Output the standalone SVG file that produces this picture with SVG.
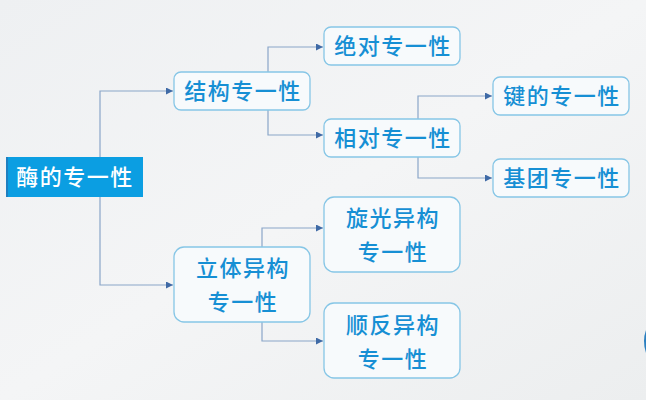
<svg xmlns="http://www.w3.org/2000/svg" width="646" height="400" viewBox="0 0 646 400">
<defs>
<linearGradient id="bg" x1="0" y1="0" x2="1" y2="1">
<stop offset="0" stop-color="#eef0f2"/>
<stop offset="0.5" stop-color="#f4f5f6"/>
<stop offset="1" stop-color="#eceeef"/>
</linearGradient>
<marker id="arr" viewBox="0 0 10 10" refX="10" refY="5" markerWidth="7" markerHeight="7" markerUnits="userSpaceOnUse" orient="auto">
<path d="M0,0 L10,5 L0,10 z" fill="#3f6aa6"/>
</marker>
<style>
.n rect{fill:#f7fafc;stroke:#86c6e6;stroke-width:1.3}
.n text{fill:#168fd4;font-family:"Noto Sans CJK SC","Noto Sans",sans-serif;font-size:22px;font-weight:500;letter-spacing:1.5px;text-anchor:middle}
.c path{fill:none;stroke:#8aa6c8;stroke-width:1.2;marker-end:url(#arr)}
</style>
</defs>
<rect width="646" height="400" fill="url(#bg)"/>
<path d="M646,330 Q642,341 646,353 z" fill="#2a7fc0"/>
<g class="c">
<path d="M100,157 V91 H173"/>
<path d="M100,197 V285 H173"/>
<path d="M268,72 V47 H323"/>
<path d="M268,110 V135 H323"/>
<path d="M418,119 V96 H492"/>
<path d="M418,157 V178 H492"/>
<path d="M262,247 V228 H323"/>
<path d="M262,322 V341 H323"/>
</g>
<g id="root">
<rect x="6" y="157" width="137" height="40" fill="#0b9ee2"/>
<rect x="6" y="157" width="2" height="40" fill="#1f7fc0"/>
<text x="75" y="185" fill="#ffffff" font-family="Noto Sans CJK SC,Noto Sans,sans-serif" font-size="22" font-weight="500" letter-spacing="1.5" text-anchor="middle">酶的专一性</text>
</g>
<g id="jiegou" class="n">
<rect x="174" y="72" width="136" height="38" rx="7"/>
<text x="243" y="99">结构专一性</text>
</g>
<g id="juedui" class="n">
<rect x="324" y="27" width="136" height="38" rx="7"/>
<text x="393" y="54">绝对专一性</text>
</g>
<g id="xiangdui" class="n">
<rect x="324" y="119" width="136" height="38" rx="7"/>
<text x="393" y="146">相对专一性</text>
</g>
<g id="jian" class="n">
<rect x="493" y="77" width="136" height="38" rx="7"/>
<text x="562" y="104">键的专一性</text>
</g>
<g id="jituan" class="n">
<rect x="493" y="159" width="136" height="38" rx="7"/>
<text x="562" y="186">基团专一性</text>
</g>
<g id="liti" class="n">
<rect x="174" y="247" width="136" height="75" rx="10"/>
<text x="243" y="276">立体异构</text>
<text x="243" y="310">专一性</text>
</g>
<g id="xuanguang" class="n">
<rect x="324" y="197" width="136" height="75" rx="10"/>
<text x="393" y="226">旋光异构</text>
<text x="393" y="260">专一性</text>
</g>
<g id="shunfan" class="n">
<rect x="324" y="303" width="136" height="75" rx="10"/>
<text x="393" y="333">顺反异构</text>
<text x="393" y="367">专一性</text>
</g>
</svg>
